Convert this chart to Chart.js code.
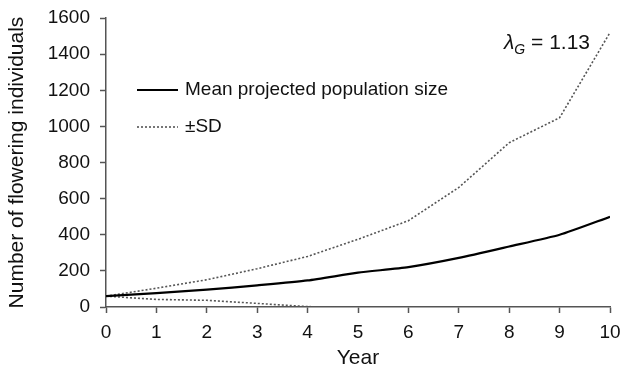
<!DOCTYPE html>
<html>
<head>
<meta charset="utf-8">
<script src="https://cdn.jsdelivr.net/npm/chart.js@4"></script>
<style>
  html, body { margin: 0; padding: 0; background: #fff; }
  #wrap { width: 630px; height: 372px; }
</style>
</head>
<body>
<div id="wrap"><canvas id="popChart" width="630" height="372"></canvas></div>
<script>
// values
const years = [0, 1, 2, 3, 4, 5, 6, 7, 8, 9, 10];
const meanPop = [60, 77, 96, 120, 147, 190, 221, 272, 335, 400, 500];
const upperSD = [60, 104, 151, 212, 280, 375, 478, 662, 910, 1048, 1520];
const lowerYears = [0, 1, 2, 3, 4, 4.6];
const lowerSD = [60, 42, 37, 20, 2, 0];
const yTicks = [0, 200, 400, 600, 800, 1000, 1200, 1400, 1600];

const FONT = "'Liberation Sans', Arial, sans-serif";
const INK = "#111";
const DOT = "#555";

const toPts = (xs, ys) => xs.map((x, i) => ({ x: x, y: ys[i] }));

// legend + lambda label drawn inside the plot
const extras = {
  id: "extras",
  afterDraw(chart) {
    const c = chart.ctx;
    c.save();
    c.textBaseline = "middle";
    c.fillStyle = INK;
    c.font = "19px " + FONT;

    // legend samples
    c.lineWidth = 2.2;
    c.strokeStyle = "#000";
    c.beginPath(); c.moveTo(137, 90); c.lineTo(178, 90); c.stroke();
    c.lineWidth = 1.6;
    c.strokeStyle = DOT;
    c.setLineDash([2, 2]);
    c.beginPath(); c.moveTo(137, 127); c.lineTo(178, 127); c.stroke();
    c.setLineDash([]);
    c.fillText("Mean projected population size", 185, 90);
    c.fillText("\u00B1SD", 185, 127);

    // lambda annotation
    let x = 504;
    c.font = "italic 21px " + FONT;
    c.fillText("\u03BB", x, 43);
    x += c.measureText("\u03BB").width;
    c.font = "italic 14px " + FONT;
    c.fillText("G", x, 50);
    x += c.measureText("G").width;
    c.font = "21px " + FONT;
    c.fillText(" = 1.13", x, 43);
    c.restore();
  }
};

new Chart(document.getElementById("popChart"), {
  type: "line",
  data: {
    datasets: [
      {
        label: "Mean projected population size",
        data: toPts(years, meanPop),
        borderColor: "#000",
        borderWidth: 2.2,
        pointRadius: 0,
        tension: 0.2
      },
      {
        label: "+SD",
        data: toPts(years, upperSD),
        borderColor: DOT,
        borderWidth: 1.6,
        borderDash: [2, 2],
        pointRadius: 0,
        tension: 0
      },
      {
        label: "-SD",
        data: toPts(lowerYears, lowerSD),
        borderColor: DOT,
        borderWidth: 1.6,
        borderDash: [2, 2],
        pointRadius: 0,
        tension: 0
      }
    ]
  },
  options: {
    responsive: false,
    animation: false,
    layout: { padding: { top: 0, right: 20, left: 0, bottom: 0 } },
    plugins: { legend: { display: false }, tooltip: { enabled: false } },
    scales: {
      x: {
        type: "linear",
        min: 0,
        max: 10,
        afterBuildTicks: s => { s.ticks = years.map(v => ({ value: v })); },
        afterFit: s => { s.height = 65; },
        border: { color: "#555", width: 1.5 },
        grid: { drawOnChartArea: false, tickLength: 6, color: "#555", tickWidth: 1.5 },
        ticks: { color: INK, padding: 8, font: { family: FONT, size: 19 }, callback: v => String(v) },
        title: { display: true, text: "Year", color: INK, padding: { top: 0, bottom: 1 }, font: { family: FONT, size: 21 } }
      },
      y: {
        min: 0,
        max: 1600,
        afterBuildTicks: s => { s.ticks = yTicks.map(v => ({ value: v })); },
        afterFit: s => { s.width = 106; },
        border: { color: "#555", width: 1.5 },
        grid: { drawOnChartArea: false, tickLength: 6, color: "#555", tickWidth: 1.5 },
        ticks: { color: INK, padding: 10, font: { family: FONT, size: 19, lineHeight: 0.85 }, callback: v => String(v) },
        title: { display: true, text: "Number of flowering individuals", color: INK, padding: 5, font: { family: FONT, size: 21 } }
      }
    }
  },
  plugins: [extras]
});
</script>
</body>
</html>
